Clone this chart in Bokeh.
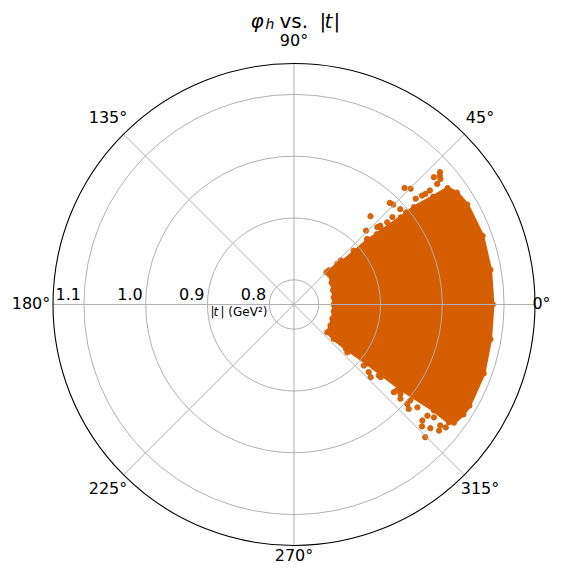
import numpy as np
from bokeh.plotting import figure
from bokeh.models import Range1d
from bokeh.core.properties import value
from bokeh.embed import file_html
from bokeh.resources import INLINE

# ---------------- data ----------------
# outline of the dense point cloud (phi_h in degrees, |t| in GeV^2)
phi_body = [-40, -30, -20, -10, 0, 10, 20, 30, 40, 44.5,
            41.5, 41.2, 40.4, 39.3, 39.1, 37.8, 37.2, 34.5,
            30, 20, 10, 0, -10, -20, -30, -33, -36.5,
            -37.3, -37.2, -38.4, -39.0, -40.5, -41]
t_body = [0.830, 0.828, 0.826, 0.825, 0.824, 0.825, 0.827, 0.830, 0.835, 0.839,
          0.865, 0.917, 0.936, 0.983, 1.010, 1.045, 1.072, 1.080,
          1.084, 1.085, 1.083, 1.082, 1.083, 1.087, 1.088, 1.087, 1.082,
          1.075, 1.044, 0.980, 0.912, 0.870, 0.845]

# isolated points along the ragged edges of the cloud
phi_out = [44.8, 43.3, 45.7, 49.1, 41.4, 46.7, 45.2, 46.5, 44.8, 42.3, 42.2,
           40.6, 41.0, 40.1, 42.9, 42.4, 41.9, 41.5,
           41.6, 41.6, 39.4, 40.4, 40.0, 40.1, 41.9, 42.1, 43.4,
           -42.1, -43.5, -41.3, -41.5, -41.3, -42.3, -39.8, -42.1, -43.6,
           -45.3, -42.2, -41.0, -39.0, -39.8, -40.0, -40.0,
           -41.9, -41.2, -39.9, -39.8, -39.5, -38.9, -39.6]
t_out = [0.834, 0.856, 0.927, 0.949, 0.961, 0.986, 0.988, 1.020, 1.026, 1.066, 1.079,
         1.072, 1.021, 1.038, 0.944, 0.949, 0.991, 1.075,
         0.947, 0.973, 0.995, 1.032, 1.047, 1.063, 0.919, 0.890, 0.864,
         0.923, 0.931, 0.975, 0.990, 1.004, 1.011, 1.020, 1.040, 1.046,
         1.062, 1.058, 1.071, 1.076, 1.041, 0.943, 0.985,
         0.876, 0.910, 0.939, 0.977, 1.004, 1.051, 1.067]

angle_ticks = [0, 45, 90, 135, 180, 225, 270, 315]
angle_labels = ["0°", "45°", "90°", "135°", "180°", "225°", "270°", "315°"]
r_ticks = [0.8, 0.9, 1.0, 1.1]
r_labels = ["0.8", "0.9", "1.0", "1.1"]
R_MIN, R_MAX = 0.76, 1.15

# ---------------- layout ----------------
W, H = 553, 568
R_PX = 241.0
S = R_PX / (R_MAX - R_MIN)        # pixels per |t| unit
CX, CY = 293.5, 304.0             # pole position in canvas pixels
COLOR = "#D55E00"
FONT = value("DejaVu Sans")
BASE_FIX = 5.0                    # lift for alphabetic-baseline texts (px)


def to_xy(phi_deg, t):
    rr = np.asarray(t, dtype=float) - R_MIN
    a = np.deg2rad(np.asarray(phi_deg, dtype=float))
    return rr * np.cos(a), rr * np.sin(a)


def px(X, Y):
    return (X - CX) / S, (CY - Y) / S


p = figure(width=W, height=H,
           x_range=Range1d(-CX / S, (W - CX) / S),
           y_range=Range1d((CY - H) / S, CY / S),
           output_backend="svg", toolbar_location=None,
           x_axis_location=None, y_axis_location=None,
           min_border=0)
p.grid.visible = False
p.outline_line_color = None
p.background_fill_color = "white"
p.border_fill_color = "white"

# data
bx, by = to_xy(phi_body, t_body)
p.patch(bx, by, fill_color=COLOR, line_color=COLOR, line_width=3, line_join="round")
p.scatter(bx, by, size=5, color=COLOR)
ox, oy = to_xy(phi_out, t_out)
p.scatter(ox, oy, size=5.3, color=COLOR, alpha=0.95)

# grid on top
for r in r_ticks:
    p.circle(x=0, y=0, radius=r - R_MIN, fill_color=None,
             line_color="#b0b0b0", line_width=1)
ex, ey = to_xy(angle_ticks, [R_MAX] * len(angle_ticks))
p.segment(x0=[0] * len(ex), y0=[0] * len(ey), x1=ex, y1=ey,
          line_color="#b0b0b0", line_width=1)
p.circle(x=0, y=0, radius=R_MAX - R_MIN, fill_color=None,
         line_color="black", line_width=1.1)

# angular tick labels (0 deg and 270 deg nudged inward so they stay on the canvas)
LR = 263.0 / S
a = np.deg2rad(angle_ticks)
lx = LR * np.cos(a)
ly = LR * np.sin(a) + 1.5 / S
lx[0] = (W - 12 - CX) / S
ly[6] = (CY - (H - 13)) / S
p.text(x=lx, y=ly, text=angle_labels,
       text_align="center", text_baseline="middle",
       text_font=FONT, text_font_size="16px", text_color="black")

# radial tick labels (placed along 180 deg)
rx = [-(r - R_MIN) - 3 / S for r in r_ticks]
p.text(x=rx, y=[(6 + BASE_FIX) / S] * len(rx), text=r_labels,
       text_align="right", text_baseline="alphabetic",
       text_font=FONT, text_font_size="16px", text_color="black")

# radial axis label |t| (GeV²)
for X, txt, style in [(210, "|", "normal"), (213, "t", "italic"), (220, "| (GeV²)", "normal")]:
    x, y = px(X, 316 - BASE_FIX)
    p.text(x=[x], y=[y], text=[txt], text_align="left", text_baseline="alphabetic",
           text_font=FONT, text_font_size="12px", text_font_style=style,
           text_color="black")

# title  φ_h vs. |t|
for X, Y, txt, style, size in [(250, 25, "φ", "italic", "20px"),
                               (265, 28, "h", "italic", "14px"),
                               (279, 25, "vs.", "normal", "20px"),
                               (319, 25, "|", "normal", "20px"),
                               (324, 25, "t", "italic", "20px"),
                               (333, 25, "|", "normal", "20px")]:
    x, y = px(X, Y - BASE_FIX)
    p.text(x=[x], y=[y], text=[txt], text_align="left", text_baseline="alphabetic",
           text_font=FONT, text_font_size=size, text_font_style=style,
           text_color="black")

open("out.html", "w").write(file_html(p, INLINE))
